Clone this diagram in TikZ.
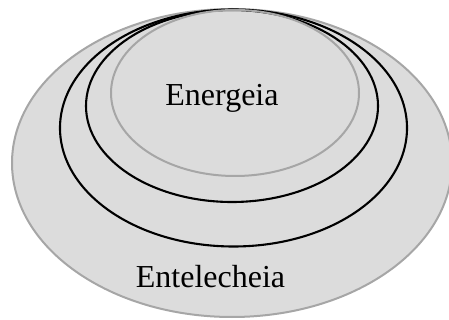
\documentclass[tikz,border=0pt]{standalone}
\usepackage{fontspec}
\setmainfont{Liberation Serif}
\definecolor{fillgray}{HTML}{DCDCDC}
\definecolor{linegray}{HTML}{A6A6A6}
\begin{document}
\begin{tikzpicture}[x=1pt,y=-1pt,
  grayring/.style={draw=linegray,line width=2pt},
  blackring/.style={draw=black,line width=2.1pt},
  lbl/.style={font=\fontsize{32}{36}\selectfont,inner sep=0pt,anchor=base}]
\useasboundingbox (0,0) rectangle (449,320);
\begin{scope}
\clip (0,0) rectangle (449,320);
\fill[fillgray] (232,163) ellipse [x radius=220, y radius=154];
\draw[grayring] (232,163) ellipse [x radius=220, y radius=154];
\draw[blackring] (233.5,128) ellipse [x radius=173.5, y radius=118.5];
\draw[blackring] (232,106) ellipse [x radius=146, y radius=96];
\draw[grayring] (235,93) ellipse [x radius=124, y radius=83];
\end{scope}
\node[lbl] (energeia) at (222,106) {Energeia};
\node[lbl] (entelecheia) at (210.5,287) {Entelecheia};
\end{tikzpicture}
\end{document}
